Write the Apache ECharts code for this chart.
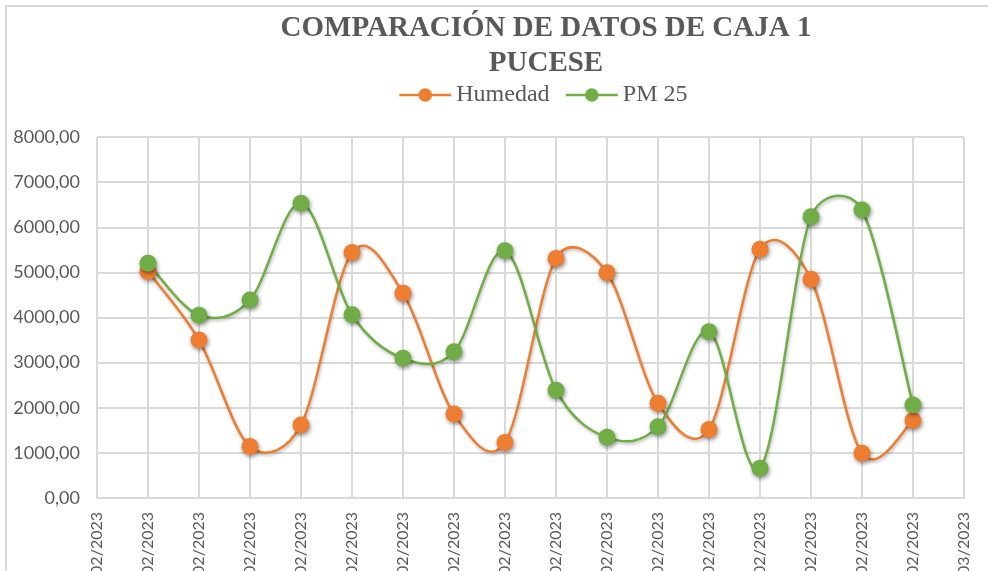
<!DOCTYPE html>
<html>
<head>
<meta charset="utf-8">
<script src="https://cdn.jsdelivr.net/npm/echarts@6/dist/echarts.min.js"></script>
<style>
  html, body { margin: 0; padding: 0; background: #fff; }
  #main { width: 988px; height: 571px; }
</style>
</head>
<body>
<div id="main"></div>
<script>
// fechas del eje x (solo se ve la parte "mm/aaaa", el día queda recortado)
var fechas = [
  '12/02/2023', '13/02/2023', '14/02/2023', '15/02/2023', '16/02/2023', '17/02/2023',
  '18/02/2023', '19/02/2023', '20/02/2023', '21/02/2023', '22/02/2023', '23/02/2023',
  '24/02/2023', '25/02/2023', '26/02/2023', '27/02/2023', '28/02/2023', '01/03/2023'
];
// valores (primer y ultimo dia sin datos)
var humedad = [null, 5020, 3500, 1140, 1620, 5440, 4540, 1860, 1230, 5310, 4990, 2100, 1520, 5510, 4845, 990, 1715, null];
var pm25 = [null, 5200, 4050, 4390, 6530, 4060, 3095, 3240, 5480, 2390, 1345, 1580, 3685, 660, 6235, 6380, 2060, null];

var myChart = echarts.init(document.getElementById('main'));
var gris = '#595959';
var lineaGris = '#d9d9d9';
var naranja = '#ed7d31';
var verde = '#70ad47';

// punto de control estilo "linea suavizada" de Excel:
// tangente paralela a (b - a), largo 1/6, sin pasar de la mitad del tramo
function control(p, a, b, tramo, signo) {
  var dx = b[0] - a[0], dy = b[1] - a[1];
  var len = Math.sqrt(dx * dx + dy * dy);
  if (len === 0) return [p[0], p[1]];
  var m = Math.min(len / 6, tramo / 2);
  return [p[0] + signo * dx / len * m, p[1] + signo * dy / len * m];
}

function curva(valores, color) {
  return function (params, api) {
    var pts = [];
    for (var i = 0; i < valores.length; i++) {
      if (valores[i] != null) pts.push(api.coord([i, valores[i]]));
    }
    var hijos = [];
    for (var k = 0; k < pts.length - 1; k++) {
      var p0 = pts[k - 1] || pts[k];
      var p1 = pts[k];
      var p2 = pts[k + 1];
      var p3 = pts[k + 2] || pts[k + 1];
      var tramo = Math.sqrt(Math.pow(p2[0] - p1[0], 2) + Math.pow(p2[1] - p1[1], 2));
      var c1 = control(p1, p0, p2, tramo, 1);
      var c2 = control(p2, p1, p3, tramo, -1);
      hijos.push({
        type: 'bezierCurve',
        shape: {
          x1: p1[0], y1: p1[1], x2: p2[0], y2: p2[1],
          cpx1: c1[0], cpy1: c1[1], cpx2: c2[0], cpy2: c2[1]
        },
        style: {
          fill: null,
          stroke: color,
          lineWidth: 2.5,
          lineCap: 'round',
          shadowBlur: 3,
          shadowColor: 'rgba(0,0,0,0.25)',
          shadowOffsetX: 1,
          shadowOffsetY: 2
        }
      });
    }
    return { type: 'group', children: hijos };
  };
}

function serie(nombre, datos, color) {
  return {
    name: nombre,
    type: 'line',
    data: datos,
    z: 3,
    symbol: 'circle',
    symbolSize: 17,
    showSymbol: true,
    animation: false,
    lineStyle: { color: color, width: 2.5, opacity: 0 },
    itemStyle: {
      color: color,
      shadowBlur: 4,
      shadowColor: 'rgba(0,0,0,0.45)',
      shadowOffsetX: 1,
      shadowOffsetY: 2
    }
  };
}

function serieCurva(nombre, datos, color) {
  return {
    name: nombre + ' curva',
    type: 'custom',
    z: 2,
    silent: true,
    animation: false,
    data: [[0, 0]],
    encode: { x: 0, y: 1 },
    renderItem: curva(datos, color)
  };
}

var option = {
  backgroundColor: '#fff',
  animation: false,
  graphic: [{
    type: 'rect',
    shape: { x: 6, y: 6, width: 1000, height: 600 },
    style: { fill: null, stroke: lineaGris, lineWidth: 2 },
    silent: true
  }],
  title: {
    text: 'COMPARACIÓN DE DATOS DE CAJA 1\nPUCESE',
    left: 541,
    textAlign: 'center',
    top: 6,
    textStyle: {
      fontFamily: 'Liberation Serif',
      fontWeight: 'bold',
      fontSize: 29,
      lineHeight: 35,
      color: gris
    }
  },
  legend: {
    top: 78,
    left: 393,
    itemWidth: 52,
    itemHeight: 17,
    itemGap: 15,
    lineStyle: { opacity: 1, width: 2.5 },
    textStyle: {
      fontFamily: 'Liberation Serif',
      fontSize: 24,
      color: gris
    },
    data: ['Humedad', 'PM 25']
  },
  grid: {
    left: 97,
    right: 24,
    top: 137,
    bottom: 73,
    outerBoundsMode: 'none'
  },
  xAxis: {
    type: 'category',
    data: fechas,
    boundaryGap: false,
    axisLine: { show: true, lineStyle: { color: lineaGris, width: 2 } },
    axisTick: { show: false },
    splitLine: { show: true, lineStyle: { color: lineaGris, width: 2 } },
    axisLabel: {
      rotate: 90,
      interval: 0,
      margin: 14,
      fontFamily: 'Lato',
      fontSize: 16,
      color: gris
    }
  },
  yAxis: {
    type: 'value',
    min: 0,
    max: 8000,
    interval: 1000,
    axisLine: { show: false },
    axisTick: { show: false },
    splitLine: { show: true, lineStyle: { color: lineaGris, width: 2 } },
    axisLabel: {
      margin: 17,
      fontFamily: 'Lato',
      fontSize: 18,
      color: gris,
      formatter: function (v) {
        return v.toFixed(2).replace('.', ',');
      }
    }
  },
  series: [
    serieCurva('Humedad', humedad, naranja),
    serieCurva('PM 25', pm25, verde),
    serie('Humedad', humedad, naranja),
    serie('PM 25', pm25, verde)
  ]
};

myChart.setOption(option);
</script>
</body>
</html>
